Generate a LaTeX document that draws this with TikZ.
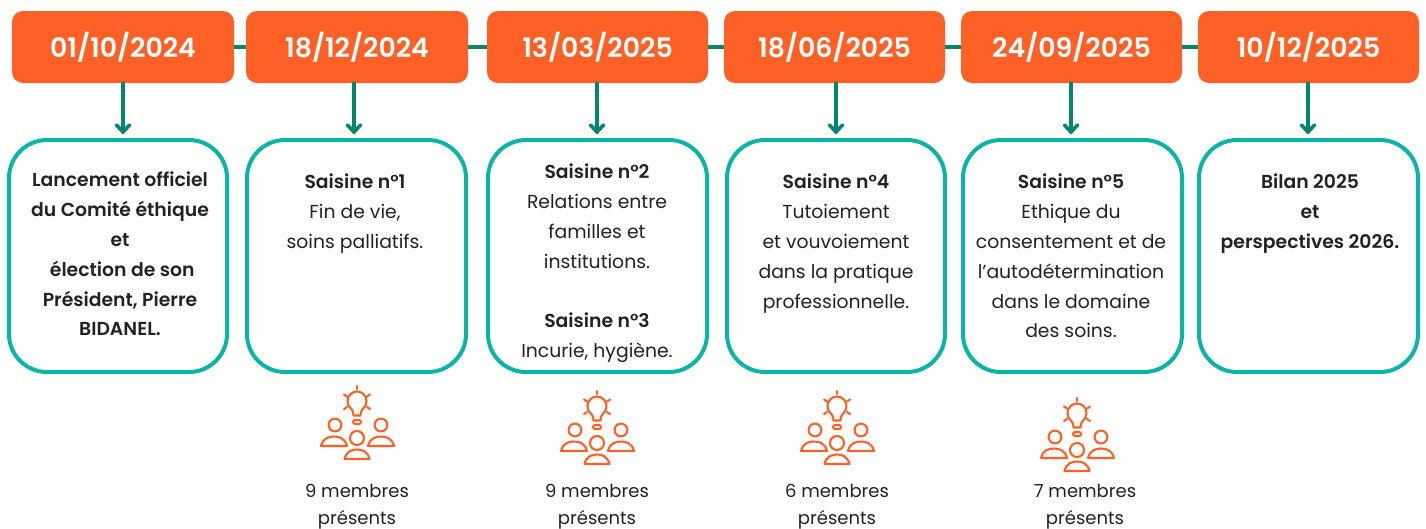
\documentclass[tikz,border=0pt]{standalone}
\usepackage{fontspec}
\setmainfont[BoldFont={Poppins SemiBold}]{Poppins}
\definecolor{orangebox}{HTML}{FF6025}
\definecolor{tealbox}{HTML}{0BB5A6}
\definecolor{greenline}{HTML}{03866B}
\definecolor{inktext}{HTML}{222222}
\tikzset{
  datebox/.style={fill=orangebox,rounded corners=11pt,minimum height=72pt,inner sep=0pt,text=white,font=\fontsize{26.8}{30}\selectfont\bfseries},
  infobox/.style={draw=tealbox,line width=4pt,fill=white,rounded corners=38pt,inner sep=0pt},
  linkline/.style={draw=greenline,line width=4.5pt},
  downarrow/.style={draw=greenline,line width=3.6pt,line cap=round},
  arrowhead/.style={draw=greenline,line width=3.6pt,line cap=round,line join=round},
  bodytext/.style={align=center,anchor=north,inner sep=0pt,text=inktext,font=\fontsize{18.8}{29.8}\selectfont},
  foottext/.style={align=center,anchor=north,inner sep=0pt,text=inktext,font=\fontsize{18}{27}\selectfont},
  iconline/.style={draw=orangebox,line width=2.1pt,line cap=round,line join=round}
}
\newcommand{\ideaicon}[2]{%
  \begin{scope}[shift={(#1,#2)}]
    % bulb
    \draw[iconline] (-3.5,14.5) -- (-4,11) .. controls (-4.5,7.5) and (-9.5,6.5) .. (-9.5,0)
      .. controls (-9.5,-5.5) and (-5,-9.5) .. (0,-9.5)
      .. controls (5,-9.5) and (9.5,-5.5) .. (9.5,0)
      .. controls (9.5,6.5) and (4.5,7.5) .. (4,11) -- (3.5,14.5) -- cycle;
    \draw[iconline,rounded corners=1.5pt] (-4,19) rectangle (4,23);
    % rays
    \draw[iconline] (0,-15) -- (0,-12);
    \draw[iconline] (-13,-6.5) -- (-10,-4.5);
    \draw[iconline] (13,-6.5) -- (10,-4.5);
    \draw[iconline] (-13,8) -- (-10,6);
    \draw[iconline] (13,8) -- (10,6);
    % people
    \draw[iconline] (-22,24) circle (6.4);
    \draw[iconline] (24,24) circle (6.4);
    \draw[iconline] (0,37) circle (7);
    \draw[iconline] (-36,45) .. controls (-34,37) and (-28,35.5) .. (-23,35.5) .. controls (-18,35.5) and (-12,37) .. (-10,45) -- cycle;
    \draw[iconline] (11,45) .. controls (13,37) and (19,35.5) .. (24,35.5) .. controls (29,35.5) and (35,37) .. (37,45) -- cycle;
    \draw[iconline] (-12.5,58) .. controls (-10.5,50) and (-5,48.5) .. (0,48.5) .. controls (5,48.5) and (10.5,50) .. (12.5,58) -- cycle;
  \end{scope}}
\begin{document}
\begin{tikzpicture}[x=1pt,y=-1pt]
\useasboundingbox (0,0) rectangle (1426,528);
% date boxes
\node[datebox,minimum width=222pt] (d1) at (123,47) {01/10/2024};
\node[datebox,minimum width=222pt] (d2) at (357,47) {18/12/2024};
\node[datebox,minimum width=221pt] (d3) at (597.5,47) {13/03/2025};
\node[datebox,minimum width=221pt] (d4) at (834.5,47) {18/06/2025};
\node[datebox,minimum width=221pt] (d5) at (1071.5,47) {24/09/2025};
\node[datebox,minimum width=221pt] (d6) at (1308.5,47) {10/12/2025};
% links
\draw[linkline] (d1) -- (d2);
\draw[linkline] (d2) -- (d3);
\draw[linkline] (d3) -- (d4);
\draw[linkline] (d4) -- (d5);
\draw[linkline] (d5) -- (d6);
% info boxes
\node[infobox,minimum width=218pt,minimum height=232pt] (b1) at (118,256) {};
\node[infobox,minimum width=219pt,minimum height=232pt] (b2) at (356.5,256) {};
\node[infobox,minimum width=219pt,minimum height=232pt] (b3) at (597.5,256) {};
\node[infobox,minimum width=218pt,minimum height=232pt] (b4) at (836,256) {};
\node[infobox,minimum width=219pt,minimum height=232pt] (b5) at (1072.5,256) {};
\node[infobox,minimum width=219pt,minimum height=232pt] (b6) at (1308.5,256) {};
% arrows
\foreach \dn/\ax in {d1/123,d2/354,d3/597,d4/836,d5/1071,d6/1308}{
  \coordinate (tip\dn) at (\ax,132);
  \draw[downarrow] (\dn.south -| tip\dn) -- (tip\dn);
  \draw[arrowhead] ([xshift=-6.5pt,yshift=7pt]tip\dn) -- (tip\dn) -- ([xshift=6.5pt,yshift=7pt]tip\dn);
}
% texts
\node[bodytext] (t1) at (120,172) {\textbf{Lancement officiel}\\\textbf{du Comité éthique}\\\textbf{et}\\\textbf{ élection de son}\\\textbf{Président, Pierre}\\\textbf{BIDANEL.}};
\node[bodytext] (t2) at (355,174) {\textbf{Saisine n°1}\\Fin de vie,\\soins palliatifs.};
\node[bodytext] (t3) at (597,164) {\textbf{Saisine n°2}\\Relations entre\\familles et\\institutions.\\[29.8pt]\textbf{Saisine n°3}\\Incurie, hygiène.};
\node[bodytext] (t4) at (836,174) {\textbf{Saisine n°4}\\Tutoiement\\et vouvoiement\\dans la pratique\\professionnelle.};
\node[bodytext] (t5) at (1071,174) {\textbf{Saisine n°5}\\Ethique du\\consentement et de\\l’autodétermination\\dans le domaine\\des soins.};
\node[bodytext] (t6) at (1310,174) {\textbf{Bilan 2025}\\\textbf{et}\\\textbf{perspectives 2026.}};
% icons
\ideaicon{357}{401}
\ideaicon{597}{406}
\ideaicon{837}{406}
\ideaicon{1077}{413}
% footers
\node[foottext] (f2) at (357,484) {9 membres\\présents};
\node[foottext] (f3) at (597,484) {9 membres\\présents};
\node[foottext] (f4) at (837,484) {6 membres\\présents};
\node[foottext] (f5) at (1085,484) {7 membres\\présents};
\end{tikzpicture}
\end{document}
